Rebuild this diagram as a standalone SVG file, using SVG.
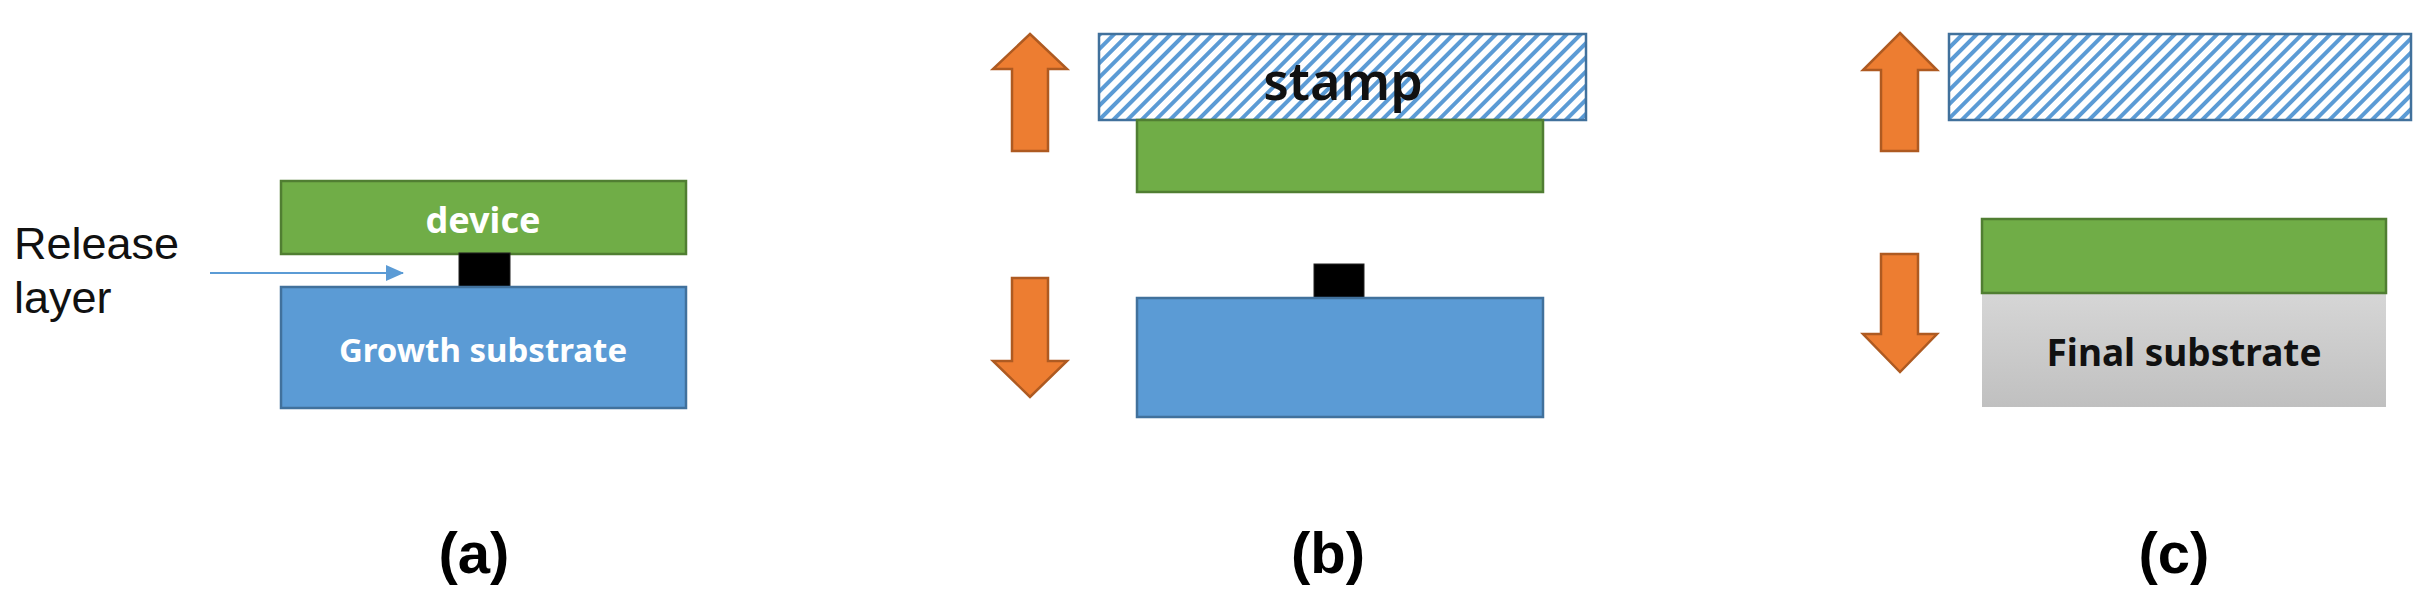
<svg xmlns="http://www.w3.org/2000/svg" width="2436" height="616" viewBox="0 0 2436 616">
<style>
.g{fill:#70AD47;stroke:#507E32;stroke-width:2.5}
.b{fill:#5B9BD5;stroke:#41719C;stroke-width:2.5}
.o{fill:#ED7D31;stroke:#AE5A21;stroke-width:2.5}
.s{fill:url(#hatch);stroke:#41719C;stroke-width:2.5}
.k{fill:#000;stroke:#222;stroke-width:1}
.wt{font-family:"Noto Sans","Open Sans",sans-serif;font-weight:bold;fill:#fff;text-anchor:middle}
.bt{font-family:"Noto Sans","Open Sans",sans-serif;font-weight:bold;fill:#111;text-anchor:middle}
.lab{font-family:"Liberation Sans",Arial,sans-serif;font-weight:bold;font-size:58px;fill:#000;text-anchor:middle}
</style>
<defs>
<pattern id="hatch" patternUnits="userSpaceOnUse" width="10" height="10" patternTransform="rotate(45)">
<rect width="10" height="10" fill="#fff"/>
<rect x="0" y="0" width="4" height="10" fill="#5B9BD5"/>
</pattern>
<linearGradient id="grey" x1="0" y1="0" x2="0" y2="1">
<stop offset="0" stop-color="#d6d6d6"/><stop offset="1" stop-color="#c0c0c0"/>
</linearGradient>
<marker id="ah" markerWidth="18" markerHeight="16" refX="17" refY="8" orient="auto" markerUnits="userSpaceOnUse" viewBox="0 0 18 16">
<path d="M0,0 L18,8 L0,16 z" fill="#5B9BD5"/>
</marker>
</defs>
<g id="panel-a">
<g id="a-device"><rect class="g" x="281" y="181" width="405" height="73"/><text class="wt" x="483" y="233" font-size="36">device</text></g>
<g id="a-release"><rect class="k" x="459" y="253" width="51" height="35"/></g>
<g id="a-substrate"><rect class="b" x="281" y="287" width="405" height="121"/><text class="wt" x="483" y="362" font-size="33">Growth substrate</text></g>
<g id="a-label"><text font-family="Liberation Sans,Arial,sans-serif" font-size="45" fill="#111"><tspan x="14" y="259">Release</tspan><tspan x="14" y="313">layer</tspan></text></g>
</g>
<g id="connectors">
<line x1="210" y1="273" x2="403" y2="273" stroke="#5B9BD5" stroke-width="2" marker-end="url(#ah)"/>
</g>
<g id="panel-b">
<g id="b-up"><path class="o" d="M1030,34 L1067,69 L1048,69 L1048,151 L1012,151 L1012,69 L993,69 Z"/></g>
<g id="b-down"><path class="o" d="M1012,278 L1048,278 L1048,361 L1067,361 L1030,397 L993,361 L1012,361 Z"/></g>
<g id="b-stamp"><rect class="s" x="1099" y="34" width="487" height="86"/><text class="bt" x="1343" y="100" font-size="52" style="font-weight:600">stamp</text></g>
<g id="b-device"><rect class="g" x="1137" y="120" width="406" height="72"/></g>
<g id="b-release"><rect class="k" x="1314" y="264" width="50" height="34"/></g>
<g id="b-substrate"><rect class="b" x="1137" y="298" width="406" height="119"/></g>
</g>
<g id="panel-c">
<g id="c-up"><path class="o" d="M1900,33 L1937,70 L1918,70 L1918,151 L1881,151 L1881,70 L1863,70 Z"/></g>
<g id="c-down"><path class="o" d="M1881,254 L1918,254 L1918,334 L1937,334 L1900,372 L1863,334 L1881,334 Z"/></g>
<g id="c-stamp"><rect class="s" x="1949" y="34" width="462" height="86"/></g>
<g id="c-substrate"><rect x="1982" y="293" width="404" height="114" fill="url(#grey)"/><text class="bt" x="2184" y="366" font-size="37">Final substrate</text></g>
<g id="c-device"><rect class="g" x="1982" y="219" width="404" height="74"/></g>
</g>
<text class="lab" x="474" y="573">(a)</text>
<text class="lab" x="1328" y="573">(b)</text>
<text class="lab" x="2174" y="573">(c)</text>
</svg>
